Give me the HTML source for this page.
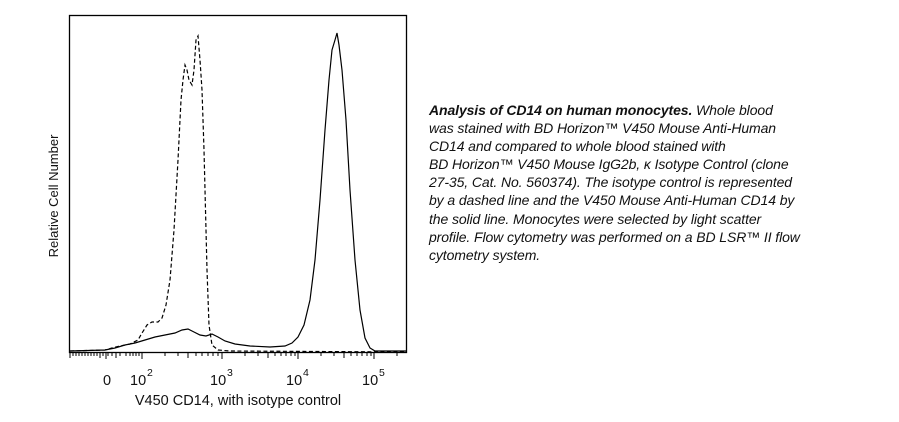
<!DOCTYPE html>
<html><head><style>
body{margin:0;background:#fff;width:899px;height:422px;overflow:hidden;position:relative;font-family:"Liberation Sans",Arial,sans-serif}
.cap{position:absolute;left:429px;top:101px;font-size:14px;line-height:18.1px;font-style:italic;color:#111;white-space:nowrap;letter-spacing:-0.1px}
</style></head><body>
<svg width="899" height="422" style="position:absolute;left:0;top:0" font-family="Liberation Sans, Arial, sans-serif">
<rect x="69.5" y="15.5" width="337" height="337" fill="none" stroke="#000" stroke-width="1.3"/>
<g stroke="#000" stroke-width="1">
<path d="M70 352v6M73 352v4M76 352v4M79 352v4M82 352v4M85 352v4M88 352v4M91 352v4M94 352v4M97 352v4M100 352v6M103 352v4M106 352v7M108 352v4M112 352v4M116 352v6M120 352v4M126 352v4M130 352v4M133 352v4M136 352v4M139 352v4M142 352v7M165 352v4M178 352v4M188 352v6M196 352v4M202 352v4M208 352v4M213 352v4M218 352v4M222 352v7M245 352v4M258 352v4M268 352v6M275 352v4M281 352v4M286 352v4M291 352v4M295 352v4M298 352v7M321 352v4M334 352v4M344 352v6M351 352v4M357 352v4M362 352v4M367 352v4M371 352v4M374 352v7M397 352v4"/>
</g>
<path fill="none" stroke="#000" stroke-width="1.2" d="M70 351 L105 350 L115 348 L125 345 L135 343 L145 340 L155 337 L165 335 L175 333 L182 330 L188 329 L194 332 L200 335 L206 336 L212 334 L218 337 L225 341 L235 344 L250 346 L270 347 L285 346 L292 343 L298 337 L304 325 L310 300 L315 260 L320 200 L325 130 L329 80 L332 50 L335 40 L337 33 L339 45 L342 70 L346 120 L350 190 L355 260 L360 310 L365 338 L370 348 L375 351 L406 351"/>
<path fill="none" stroke="#000" stroke-width="1.2" stroke-dasharray="4,2.5" d="M70 351 L105 350 L112 348 L120 346 L130 344 L138 340 L142 333 L147 325 L152 322 L158 322 L162 318 L166 305 L170 280 L174 230 L178 160 L181 100 L183 80 L185 65 L187 70 L189 80 L192 85 L194 70 L196 40 L198 36 L200 60 L202 90 L204 150 L207 270 L209 325 L212 345 L218 350 L230 351 L406 352"/>
<g font-size="14.5" fill="#111">
<text x="103" y="385">0</text>
<text x="130" y="385">10</text><text x="147" y="376" font-size="10.5">2</text>
<text x="210" y="385">10</text><text x="227" y="376" font-size="10.5">3</text>
<text x="286" y="385">10</text><text x="303" y="376" font-size="10.5">4</text>
<text x="362" y="385">10</text><text x="379" y="376" font-size="10.5">5</text>
<text x="238" y="405" text-anchor="middle">V450 CD14, with isotype control</text>
<text transform="translate(58,196) rotate(-90)" text-anchor="middle" font-size="13">Relative Cell Number</text>
</g>
</svg>
<div class="cap"><b>Analysis of CD14 on human monocytes.</b> Whole blood<br>was stained with BD Horizon™ V450 Mouse Anti-Human<br>CD14 and compared to whole blood stained with<br>BD Horizon™ V450 Mouse IgG2b, κ Isotype Control (clone<br>27-35, Cat. No. 560374). The isotype control is represented<br>by a dashed line and the V450 Mouse Anti-Human CD14 by<br>the solid line. Monocytes were selected by light scatter<br>profile. Flow cytometry was performed on a BD LSR™ II flow<br>cytometry system.</div>
</body></html>
